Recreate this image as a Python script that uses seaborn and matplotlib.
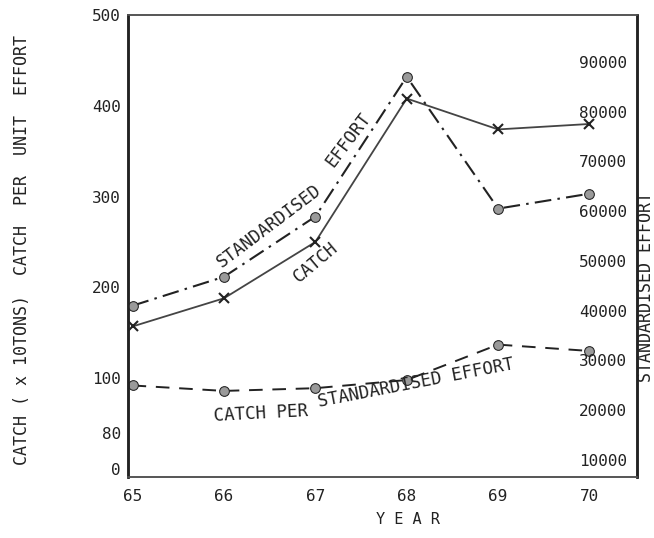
import matplotlib
matplotlib.use("Agg")
import matplotlib.pyplot as plt
import seaborn as sns

# values
years = [65, 66, 67, 68, 69, 70]
catch = [157, 188, 250, 408, 374, 380]          # x10 tons, left axis
cpue = [92, 86, 89, 98, 137, 130]               # left axis
effort = [41000, 46800, 58900, 87000, 60500, 63500]  # right axis

year_labels = ["65", "66", "67", "68", "69", "70"]
left_ticks = [0, 40, 100, 200, 300, 400, 500]
left_labels = ["0", "80", "100", "200", "300", "400", "500"]
right_ticks = [10000, 20000, 30000, 40000, 50000, 60000, 70000, 80000, 90000]

sns.set_style("white")
plt.rcParams["font.family"] = ["DejaVu Sans Mono", "DejaVu Sans"]

ink = "#222222"

fig = plt.figure(figsize=(6.54, 5.38), dpi=100)
ax = fig.add_axes([0.1957, 0.1134, 0.7783, 0.8587])
ax2 = ax.twinx()

# catch: solid line with x markers
sns.lineplot(x=years, y=catch, ax=ax, color="#444444", lw=1.3, marker="x",
             markersize=7, markeredgewidth=1.5, markeredgecolor=ink)
# catch per standardised effort: dashed with circles
sns.lineplot(x=years, y=cpue, ax=ax, color=ink, lw=1.4, marker="o",
             markersize=7, markerfacecolor="#9a9a9a", markeredgecolor=ink)
ax.lines[-1].set_dashes([7, 5])
# standardised effort: dash-dot with circles, right axis
sns.lineplot(x=years, y=effort, ax=ax2, color=ink, lw=1.5, marker="o",
             markersize=7, markerfacecolor="#9a9a9a", markeredgecolor=ink)
ax2.lines[-1].set_dashes([8, 3, 1.2, 3])

ax.set_xlim(64.95, 70.52)
ax.set_ylim(-8.8, 500)
ax2.set_ylim(6580, 99400)

ax.set_xticks(years)
ax.set_xticklabels(year_labels)
ax.tick_params(axis="x", direction="in", length=6, width=1, pad=9,
               labelsize=11.5, colors=ink)
ax.set_yticks(left_ticks)
ax.set_yticklabels(left_labels)
ax.tick_params(axis="y", length=0, pad=5, labelsize=11.5, colors=ink)

ax2.set_yticks(right_ticks)
ax2.tick_params(axis="y", length=0, pad=-7, labelsize=11.5, colors=ink)
for t in ax2.get_yticklabels():
    t.set_horizontalalignment("right")

# box: heavy left/right edges, lighter top/bottom like the scan
for a in (ax, ax2):
    for name, s in a.spines.items():
        s.set_color(ink if name in ("left", "right") else "#555555")
        s.set_linewidth(1.8 if name in ("left", "right") else 1.2)

ax.set_xlabel("")
ax.set_ylabel("")
ax2.set_ylabel("")

# axis titles
fig.text(0.034, 0.535, "CATCH ( x 10TONS)  CATCH  PER  UNIT  EFFORT",
         rotation=90, ha="center", va="center", fontsize=12, color=ink)
fig.text(0.988, 0.467, "STANDARDISED EFFORT", rotation=90,
         ha="center", va="center", fontsize=12, color=ink)
ax.text(0.55, -0.093, "Y E A R", transform=ax.transAxes, ha="center",
        va="center", fontsize=11, color=ink)

# line labels written along the curves
ax.text(66.5, 268, "STANDARDISED", rotation=37, ha="center", va="center",
        fontsize=12.5, color=ink, rotation_mode="anchor")
ax.text(67.36, 362, "EFFORT", rotation=53, ha="center", va="center",
        fontsize=12.5, color=ink, rotation_mode="anchor")
ax.text(67.0, 228, "CATCH", rotation=40, ha="center", va="center",
        fontsize=12.5, color=ink, rotation_mode="anchor")
ax.text(66.4, 61, "CATCH PER", rotation=3, ha="center", va="center",
        fontsize=12.5, color=ink, rotation_mode="anchor")
ax.text(68.1, 95, "STANDARDISED EFFORT", rotation=11, ha="center",
        va="center", fontsize=12.5, color=ink, rotation_mode="anchor")

fig.savefig("out.png", dpi=100)
